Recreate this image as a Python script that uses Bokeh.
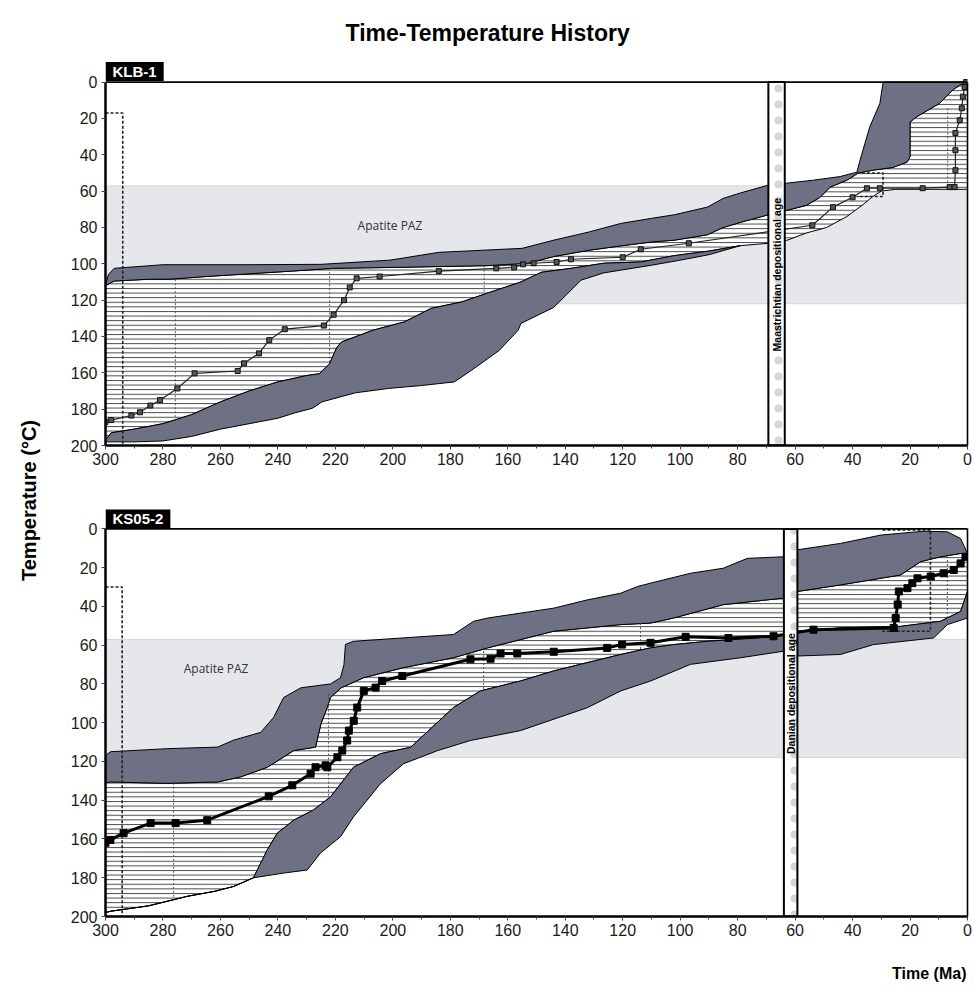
import math
from bokeh.plotting import figure
from bokeh.layouts import row, column
from bokeh.models import Range1d, FixedTicker, Label, BoxAnnotation, Span, LinearAxis
from bokeh.embed import file_html
from bokeh.resources import INLINE

# ---------------- text ----------------
title_text = "Time-Temperature History"
y_label = "Temperature (°C)"
x_label = "Time (Ma)"
paz_text = "Apatite PAZ"

# ---------------- ticks ----------------
x_ticks = list(range(0, 301, 20))
x_minor = list(range(0, 301, 10))
y_ticks = list(range(0, 201, 20))

# ================= KLB-1 (upper panel) =================
klb_name = "KLB-1"
klb_paz = [57, 122]
klb_dep = [69.3, 63.6]
klb_dep_text = "Maastrichtian depositional age"
klb_dep_text_y = 106
klb_paz_xy = [201, 79]

# outer upper envelope (top of upper grey band)
klb_A_x = [300, 299, 297, 280, 250, 225, 201, 184, 155, 144, 132, 120.7, 110, 102, 90.5, 85, 79,
           69.3, 62.7, 53.7, 44.4, 38.5, 37.4, 34, 30.5, 29.4, 29, 0]
klb_A_y = [112, 106, 102.5, 100.5, 100.5, 100.3, 98, 93.7, 91.5, 87, 82.6, 77.8, 75, 73, 68.8, 64, 61,
           56.7, 55.6, 54, 52, 49.6, 43, 24.6, 11.7, 0.5, 0, 0]
# inner upper envelope (bottom of upper grey band)
klb_B_x = [300, 297, 285, 278, 265, 250, 235, 221, 200, 167, 153, 144, 132, 120, 110, 102, 90.5, 85, 79,
           69.3, 62.7, 56, 51.3, 47.8, 42, 38, 33, 26, 21, 20, 20, 17.6, 9.7, 5.2, 2.7, 0.5, 0]
klb_B_y = [112, 109.5, 108.5, 108.5, 107, 105.5, 104, 102.5, 102, 101, 99.7, 96, 92.6, 90, 88, 87, 84, 80, 77.2,
           73, 70.5, 67.8, 63.4, 57.8, 54, 50, 48.5, 47, 44, 41, 22, 19, 11.7, 4.4, 1.7, 0.2, 0]
# inner lower envelope (top of lower grey band)
klb_C_x = [300, 298, 290, 280, 270, 260, 250, 240, 230, 225.5, 222, 219.5, 217.8, 207, 196, 186.6, 176, 166.8,
           155.4, 148.4, 138, 126.6, 113.7, 102, 90, 79, 69.3, 62.7, 56, 49, 42, 36, 33, 30, 25, 0]
klb_C_y = [197, 193, 191, 188, 183, 176, 170, 165, 161.5, 160.5, 155, 146, 143, 136.6, 132, 124.5, 121, 116,
           110, 104.7, 102.5, 99.7, 99, 95.5, 93, 90, 88.7, 87, 83, 80, 74, 67, 63, 60, 59, 59]
# outer lower envelope (bottom of lower grey band)
klb_D_x = [300, 290, 280, 270, 260, 250, 240, 234, 228, 224.7, 213, 201.5, 190, 178.6, 172.7, 163, 156.4,
           155.4, 144, 134.5, 126.6, 110, 100, 90, 79]
klb_D_y = [198, 198, 197.5, 195, 191, 188, 185, 182, 179.5, 176, 171, 168.6, 167, 165, 158.7, 147.7, 136.6,
           132.8, 124, 109, 105, 100.8, 98, 95, 90]
# best-fit path
klb_path_x = [300, 298, 291, 288, 284.4, 281, 275, 269, 254, 251.8, 246.6, 243, 237.6, 224, 220.6, 217, 215,
              212.6, 204.6, 184, 164, 157.8, 154.7, 151, 143, 138, 120, 113.7, 97, 54, 46.8, 40, 35, 30.5,
              15.6, 6.2, 4.5, 4.2, 4.2, 4.2, 2.7, 2, 1.6, 1, 0.5]
klb_path_y = [187, 186, 183.5, 181.7, 178, 175, 168.6, 160.3, 159, 154.8, 149.3, 142, 136, 134, 128, 120, 113,
              108, 107, 104, 102.5, 102, 100.3, 99.7, 99, 97.5, 96.4, 92, 88.7, 78.8, 68.8, 63.4, 58.4, 58.4,
              58.4, 57.8, 57.8, 48.5, 37.5, 28, 21, 14.4, 8, 2.7, 0]
# constraint boxes (x0, x1, y0, y1)
klb_boxes = [[300, 294, 17, 200], [38.5, 29.4, 50, 63]]
# dotted segment markers (x, y0, y1)
klb_dots_x = [275.7, 222, 168.2, 6.9]
klb_dots_y0 = [108.5, 102.5, 101, 14.5]
klb_dots_y1 = [188, 155, 118, 58]

# ================= KS05-2 (lower panel) =================
ks_name = "KS05-2"
ks_paz = [57, 118]
ks_dep = [63.9, 59.2]
ks_dep_text = "Danian depositional age"
ks_dep_text_y = 85
ks_paz_xy = [261.5, 72]

ks_A_x = [300, 298.3, 278.5, 261, 255.4, 246, 241.5, 238, 232, 221.7, 218.2, 217, 216.5, 213.7, 178.9, 171.9,
          167, 144, 132.2, 120.7, 114.8, 110.3, 96.4, 85, 76.6, 64, 59.2, 44.2, 30.2, 15.3, 7, 2.4, 0]
ks_A_y = [117, 115, 113.4, 112.6, 109, 105, 97.3, 87, 82, 80, 76.8, 70, 59.6, 58, 54.5, 47.7,
          46, 40.9, 36.6, 33.2, 29.7, 28, 22.9, 20.3, 15.2, 14.4, 10.8, 7.5, 3.2, 1.2, 1.5, 5, 12.7]
ks_B_x = [300, 298.3, 278.5, 261, 253, 243.7, 234.5, 226.9, 225, 222.8, 221.7, 218, 210.2, 196.3, 178.9, 167,
          144, 120.7, 110.3, 102.3, 85, 64, 59.2, 44.2, 23.3, 16.3, 9.4, 2.4, 0]
ks_B_y = [131, 130.6, 131.3, 130.6, 128, 123, 114.4, 112.6, 100.5, 92, 87, 82, 76.8, 71.6, 66.5, 61.4,
          52.8, 49.4, 48.6, 46, 39.1, 35.7, 32.3, 28.9, 23.8, 16.9, 14.4, 12.7, 12.7]
ks_C_x = [300, 298.3, 285, 271.6, 262, 255.4, 248.5, 243.7, 240.2, 234.5, 227.6, 221.7, 213.7, 204.3, 193.8,
          178.9, 169.5, 155.6, 144, 130.1, 120.7, 110.3, 102.3, 90.5, 73.1, 64, 59.2, 44.2, 23.3, 9.4, 2.4, 0]
ks_C_y = [198, 197.3, 194.5, 189.6, 187, 184.5, 180, 165.6, 157, 150.3, 145, 138.3, 123, 116, 112.7,
          92.2, 83.6, 78.5, 73.3, 68.2, 64.8, 61.4, 59.7, 58, 56.3, 54.5, 52.8, 51.1, 50.3, 47.7, 42.6, 32.3]
ks_D_x = [300, 298.3, 285, 271.6, 262, 255.4, 248.5, 238, 229.8, 225.2, 218.2, 213.7, 204.3, 196.3, 184.4,
          173, 155.6, 132.2, 120.7, 110.3, 96.4, 79, 64, 59.2, 44.2, 32.7, 11.8, 7, 0]
ks_D_y = [198, 197.3, 194.5, 189.6, 187, 184.5, 180, 177.6, 176, 167.3, 158.8, 148.6, 131.5, 121.2, 114.4,
          109.2, 104.1, 92.2, 83.6, 78.5, 69.9, 66.5, 63.1, 65.6, 64.8, 59.7, 56.3, 49.4, 46]
ks_path_x = [300, 298.3, 293.7, 284.3, 275.6, 264.6, 243.2, 235, 228.6, 226.9, 223.4, 222.8, 219.3, 217.6,
             215.9, 215.3, 213.6, 212.4, 210.1, 206, 203.7, 196.7, 173, 166, 162.5, 156.7, 144, 125.4, 120.2,
             110.3, 98.1, 83.2, 67.5, 53.6, 25.7, 25, 24.3, 23.9, 20.9, 19.2, 17.4, 12.8, 8.3, 4.8, 2.4, 0.7]
ks_path_y = [162, 160.5, 157, 151.8, 151.8, 150.3, 138, 132.3, 126.3, 123, 122, 123, 117.8, 114.4,
             109.2, 104.1, 99, 92.2, 83.6, 81.9, 78.5, 75.9, 67.3, 67, 64.3, 64.3, 63.4, 61.4, 59.7,
             58.8, 55.7, 56.3, 55.4, 52, 51.1, 46, 39, 32.3, 30.6, 28, 25.5, 24.6, 22.9, 21.2, 17.8, 14.4]
ks_boxes = [[300, 294.2, 30, 200], [29.6, 12.9, 0.5, 52.8]]
ks_dots_x = [276.3, 222.4, 168.4, 113.8, 7]
ks_dots_y0 = [131, 85, 61, 48.6, 14]
ks_dots_y1 = [190, 139, 84, 62, 48]

BAND = "#6d7183"
PAZ_FILL = "#e6e7ea"
FONT = "Liberation Sans"
ML, MR = 55, 8          # left / right borders shared by all stacked plots


def polygon(xa, ya, xb, yb):
    return list(xa) + list(xb)[::-1], list(ya) + list(yb)[::-1]


def make_panel(height, y_top, mb_top, mb_bottom, name, paz, dep, dep_text, dep_text_y, paz_xy,
               A, B, C, D, path, boxes, dots, heavy):
    p = figure(width=925, height=height, x_range=Range1d(300, 0), y_range=Range1d(200, y_top),
               output_backend="svg", toolbar_location=None,
               min_border_left=ML, min_border_right=MR,
               min_border_top=mb_top, min_border_bottom=mb_bottom)
    p.grid.visible = False
    p.outline_line_color = None
    p.background_fill_color = "white"
    p.border_fill_color = "white"

    p.xaxis.ticker = FixedTicker(ticks=x_ticks, minor_ticks=x_minor)
    p.yaxis.ticker = FixedTicker(ticks=y_ticks)
    p.yaxis.bounds = (0, 200)
    for ax in (p.xaxis, p.yaxis):
        ax.axis_line_width = 2.5
        ax.axis_line_color = "black"
        ax.major_tick_out = 4
        ax.major_tick_in = 0
        ax.minor_tick_out = 3
        ax.minor_tick_in = 0
        ax.major_label_text_font = FONT
        ax.major_label_text_font_size = "16px"
        ax.major_label_text_color = "#1a1a1a"
        ax.major_tick_line_color = "#444"
        ax.minor_tick_line_color = "#444"
    p.yaxis.minor_tick_line_color = None
    p.yaxis.major_label_standoff = 4
    p.xaxis.major_label_standoff = 3

    # frame: right edge (0..200) and top edge (y = 0)
    right = LinearAxis(ticker=FixedTicker(ticks=[]), bounds=(0, 200), axis_line_width=1.6,
                       axis_line_color="black", major_tick_out=0, minor_tick_out=0,
                       major_label_standoff=0, major_label_text_font_size="0px")
    p.add_layout(right, "right")
    p.add_layout(Span(location=0, dimension="width", line_color="black", line_width=1.6))

    # partial annealing zone
    p.add_layout(BoxAnnotation(top=paz[0], bottom=paz[1], fill_color=PAZ_FILL, fill_alpha=1,
                               line_color="#9a9a9a", line_width=1, level="underlay"))
    p.add_layout(Label(x=paz_xy[0], y=paz_xy[1], text=paz_text, text_font="Open Sans",
                       text_font_size="12px", text_color="#333333", text_align="center",
                       text_baseline="middle"))

    # hatched good-fit region
    hx, hy = polygon(B[0], B[1], C[0], C[1])
    p.patch(hx, hy, fill_color="white", hatch_pattern="horizontal_line", hatch_scale=4.6,
            hatch_weight=0.8, hatch_color="#1a1a1a", line_color="black", line_width=1)

    # grey envelope bands
    ux, uy = polygon(A[0], A[1], B[0], B[1])
    p.patch(ux, uy, fill_color=BAND, line_color="black", line_width=1)
    cx = [x for x in C[0] if x >= min(D[0])]
    cy = [y for x, y in zip(C[0], C[1]) if x >= min(D[0])]
    lx, ly = polygon(cx, cy, D[0], D[1])
    p.patch(lx, ly, fill_color=BAND, line_color="black", line_width=1)

    # dotted segment markers
    p.segment(x0=dots[0], y0=dots[1], x1=dots[0], y1=dots[2], line_dash="2 2",
              line_color="#444", line_width=0.9)

    # constraint boxes
    for b in boxes:
        p.line([b[0], b[1], b[1], b[0]], [b[2], b[2], b[3], b[3]], line_dash="3 2",
               line_color="#222", line_width=1.6)

    # best-fit path
    if heavy:
        p.line(path[0], path[1], line_color="black", line_width=3)
        p.scatter(path[0], path[1], marker="square", size=7, fill_color="black", line_color="black")
    else:
        p.line(path[0], path[1], line_color="#222", line_width=1.2)
        p.scatter(path[0], path[1], marker="square", size=5, fill_color="#555", line_color="#111")

    # depositional age bar
    p.quad(left=[dep[0]], right=[dep[1]], top=[0], bottom=[200], fill_color="white",
           hatch_pattern="dot", hatch_color="#d6d6d6", hatch_scale=16, hatch_weight=0.3,
           line_color="black", line_width=2)
    p.add_layout(Label(x=(dep[0] + dep[1]) / 2, y=dep_text_y, text=dep_text, angle=math.pi / 2,
                       text_font=FONT, text_font_size="10.5px",
                       text_font_style="bold", text_color="black",
                       text_align="center", text_baseline="middle"))

    # sample name box, sitting on the top frame edge
    p.add_layout(Label(x=300, y=0, text=name, text_font=FONT,
                       text_font_size="15px", text_font_style="bold", text_color="white",
                       background_fill_color="black", text_line_height=1.0,
                       text_align="left", text_baseline="bottom", padding=(7, 1), y_offset=1))
    return p


top = make_panel(490, -35, 18, 45, klb_name, klb_paz, klb_dep, klb_dep_text, klb_dep_text_y,
                 klb_paz_xy, (klb_A_x, klb_A_y), (klb_B_x, klb_B_y), (klb_C_x, klb_C_y),
                 (klb_D_x, klb_D_y), (klb_path_x, klb_path_y), klb_boxes,
                 (klb_dots_x, klb_dots_y0, klb_dots_y1), heavy=False)
top.add_layout(Label(x=167, y=-27, text=title_text, text_font=FONT, text_font_size="23px",
                     text_font_style="bold", text_color="black", text_align="center",
                     text_baseline="middle"))

bot = make_panel(455, -10, 19, 29, ks_name, ks_paz, ks_dep, ks_dep_text, ks_dep_text_y,
                 ks_paz_xy, (ks_A_x, ks_A_y), (ks_B_x, ks_B_y), (ks_C_x, ks_C_y),
                 (ks_D_x, ks_D_y), (ks_path_x, ks_path_y), ks_boxes,
                 (ks_dots_x, ks_dots_y0, ks_dots_y1), heavy=True)

# footer strip with the x-axis title (page x coordinates of the shared frame)
footer = figure(width=925, height=43, x_range=Range1d(105, 967), y_range=Range1d(0, 43),
                output_backend="svg", toolbar_location=None, min_border_left=ML,
                min_border_right=MR, min_border_top=0, min_border_bottom=0)
footer.axis.visible = False
footer.grid.visible = False
footer.outline_line_color = None
footer.add_layout(Label(x=966, y=15, text=x_label, text_font=FONT, text_font_size="16px",
                        text_font_style="bold", text_color="black", text_align="right",
                        text_baseline="middle"))

# left strip with the y-axis title
left = figure(width=50, height=988, x_range=Range1d(0, 50), y_range=Range1d(0, 988),
              output_backend="svg", toolbar_location=None, min_border=0)
left.axis.visible = False
left.grid.visible = False
left.outline_line_color = None
left.add_layout(Label(x=28, y=488, text=y_label, angle=math.pi / 2, text_font=FONT,
                      text_font_size="20px", text_font_style="bold", text_color="black",
                      text_align="center", text_baseline="middle"))

layout = row(left, column(top, bot, footer))
open("out.html", "w").write(file_html(layout, INLINE))
